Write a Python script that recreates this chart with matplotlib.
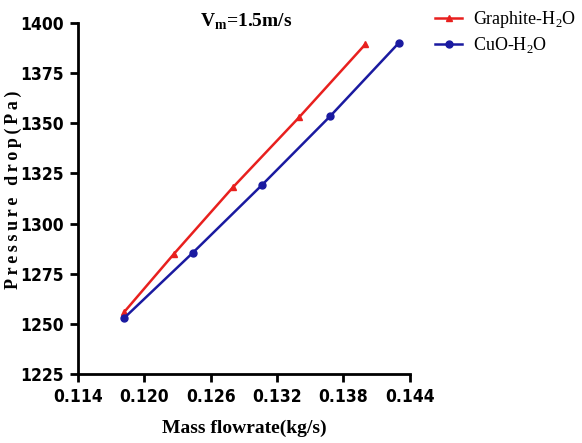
import numpy as np
import matplotlib
matplotlib.use('Agg')
import matplotlib.pyplot as plt
from matplotlib import font_manager

# mass flowrate (kg/s) and pressure drop (Pa), V_m = 1.5 m/s
graphite_x = [0.1182, 0.1227, 0.1280, 0.1340, 0.1400]
graphite_y = [1256, 1285, 1318, 1353, 1389.5]
cuo_x = [0.1182, 0.1244, 0.1306, 0.1368, 0.1430]
cuo_y = [1253, 1285.5, 1319, 1353.5, 1390]

xticks = [0.114, 0.120, 0.126, 0.132, 0.138, 0.144]
yticks = [1225, 1250, 1275, 1300, 1325, 1350, 1375, 1400]

# narrow bold sans for the tick labels (DejaVu Sans Condensed Bold if present)
narrow = None
for f in font_manager.fontManager.ttflist:
    n = f.fname.lower()
    if 'condensed' in n and 'bold' in n and 'sans' in n and 'oblique' not in n:
        narrow = f.fname
        break
if narrow:
    tick_prop = font_manager.FontProperties(fname=narrow, size=12.5)
else:
    tick_prop = font_manager.FontProperties(family='Liberation Sans', size=11.5, weight='bold')

serif = 'Liberation Serif'
plt.rcParams['mathtext.fontset'] = 'custom'
plt.rcParams['mathtext.rm'] = serif
plt.rcParams['mathtext.bf'] = serif + ':bold'

fig = plt.figure(figsize=(5.82, 4.43), dpi=100)
ax = fig.add_axes([0.134, 0.156, 0.57, 0.792])

ax.plot(graphite_x, graphite_y, color='#e8201e', lw=1.8, marker='^', ms=5,
        label='Graphite-H$_2$O')
ax.plot(cuo_x, cuo_y, color='#1a1aa0', lw=1.8, marker='o', ms=5,
        label='CuO-H$_2$O')

ax.set_xlim(0.114, 0.144)
ax.set_ylim(1225, 1400)
ax.set_xticks(xticks)
ax.set_xticklabels([f'{v:.3f}' for v in xticks])
ax.set_yticks(yticks)

for s in ['top', 'right']:
    ax.spines[s].set_visible(False)
for s in ['left', 'bottom']:
    ax.spines[s].set_linewidth(2)
ax.tick_params(width=2, length=6, direction='out', pad=4)
for lab in ax.get_xticklabels() + ax.get_yticklabels():
    lab.set_fontproperties(tick_prop)

ax.set_xlabel('Mass flowrate(kg/s)', fontfamily=serif, fontweight='bold',
              fontsize=14, labelpad=10)
ylab = '\u2009'.join('Pressure drop(Pa)')
ax.set_ylabel(ylab, fontfamily=serif, fontweight='bold', fontsize=13)
ax.yaxis.set_label_coords(-0.17, 0.525)

ax.text(0.367, 1.003, 'V$_\\mathregular{m}$=1.5m/s', transform=ax.transAxes,
        fontfamily=serif, fontweight='bold', fontsize=14, ha='left', va='center')

leg = ax.legend(loc='upper left', bbox_to_anchor=(0.735, 0.995), bbox_transform=fig.transFigure,
                frameon=False, prop={'family': serif, 'size': 13},
                handlelength=1.5, handletextpad=0.6, labelspacing=0.25, borderaxespad=0)

fig.savefig('out.png', dpi=100)
